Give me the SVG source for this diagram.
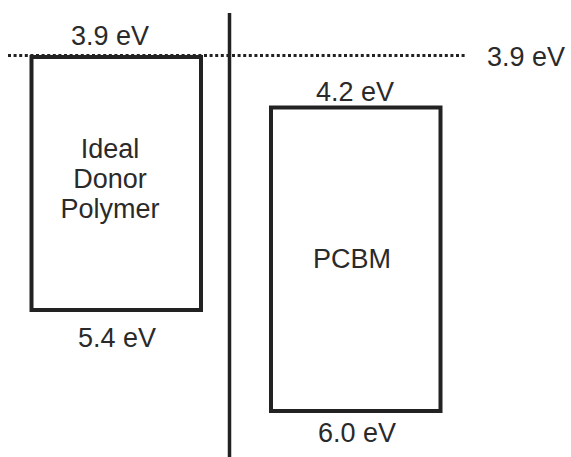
<svg xmlns="http://www.w3.org/2000/svg" width="571" height="457" viewBox="0 0 571 457">
<style>
text{font-family:"Liberation Sans",Arial,sans-serif;font-size:27px;fill:#2a2a2a}
.c{text-anchor:middle}
.box{fill:none;stroke:#222;stroke-width:4}
.ln{stroke:#222;fill:none}
</style>
<rect width="571" height="457" fill="#fff"/>
<g id="connectors">
<line class="ln" x1="8" y1="55.5" x2="466" y2="55.5" stroke-width="3" stroke-dasharray="3 2.6"/>
<line class="ln" x1="229.5" y1="13" x2="229.5" y2="457" stroke-width="3.5"/>
</g>
<g id="donor">
<rect class="box" x="31.5" y="57" width="169.5" height="253"/>
<text class="c" x="110" y="45">3.9 eV</text>
<text class="c" x="110" y="158">Ideal</text>
<text class="c" x="110" y="188">Donor</text>
<text class="c" x="110" y="218">Polymer</text>
<text class="c" x="117" y="347">5.4 eV</text>
</g>
<g id="pcbm">
<rect class="box" x="271" y="107.5" width="169.5" height="303.5"/>
<text class="c" x="355" y="101">4.2 eV</text>
<text class="c" x="352" y="268">PCBM</text>
<text class="c" x="357" y="442">6.0 eV</text>
</g>
<g id="level">
<text x="487" y="66">3.9 eV</text>
</g>
</svg>
